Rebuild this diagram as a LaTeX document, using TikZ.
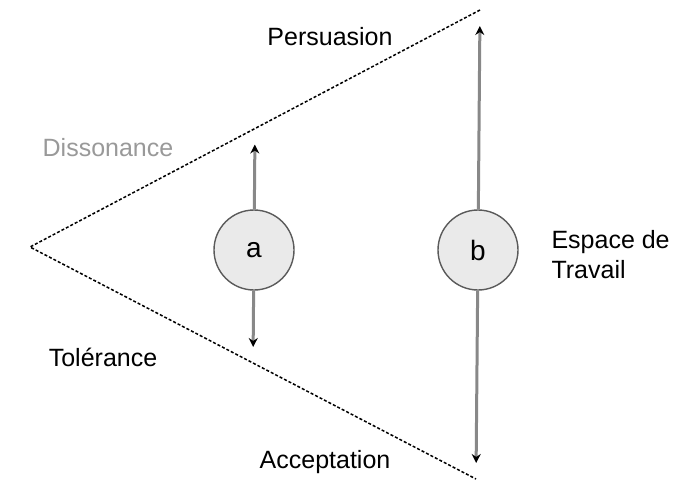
\documentclass[tikz,border=0pt]{standalone}
\usepackage{fontspec}
\setmainfont{Liberation Sans}
\usetikzlibrary{arrows.meta,calc}
\definecolor{disc}{HTML}{EAEAEA}
\definecolor{rim}{HTML}{5A5A5A}
\definecolor{stem}{HTML}{888888}

\begin{document}
\begin{tikzpicture}[x=1pt,y=-1pt,
  t/.style={font=\fontsize{25}{30}\selectfont},
  c/.style={circle,draw=rim,fill=disc,line width=1.4pt,minimum size=80pt,inner sep=0pt,font=\fontsize{28}{30}\selectfont},
  e/.style={line width=1.5pt,dash pattern=on 3pt off 2pt},
  v/.style={draw=stem,line width=3pt,-{Stealth[black,length=9pt,width=9pt]},shorten >=16pt}]
\useasboundingbox (0,0) rectangle (682,483);

% the triangle
\coordinate (apex) at (30,247);
\coordinate (top)  at (480,10);
\coordinate (bot)  at (476,479);
\draw[e] (top) -- (apex) -- (bot);

\coordinate (ua) at ($(apex)!0.5!(top)$);
\coordinate (la) at ($(apex)!0.5!(bot)$);

\node[c] (a) at (254,250) {a};
\node[c] (b) at (478,250) {b};

\draw[v] (a) -- (ua);
\draw[v] (a) -- (la);
\draw[v] (b) -- (top);
\draw[v] (b) -- (bot);

\node[t] (pers) at (330,37)  {Persuasion};
\node[t,text=black!40] (diss) at (108,148) {Dissonance};
\node[t] (tol)  at (103,357) {Tolérance};
\node[t] (acc)  at (325,462) {Acceptation};
\node[t,align=left,anchor=west] (esp) at (548,255) {Espace de\\Travail};
\end{tikzpicture}
\end{document}
